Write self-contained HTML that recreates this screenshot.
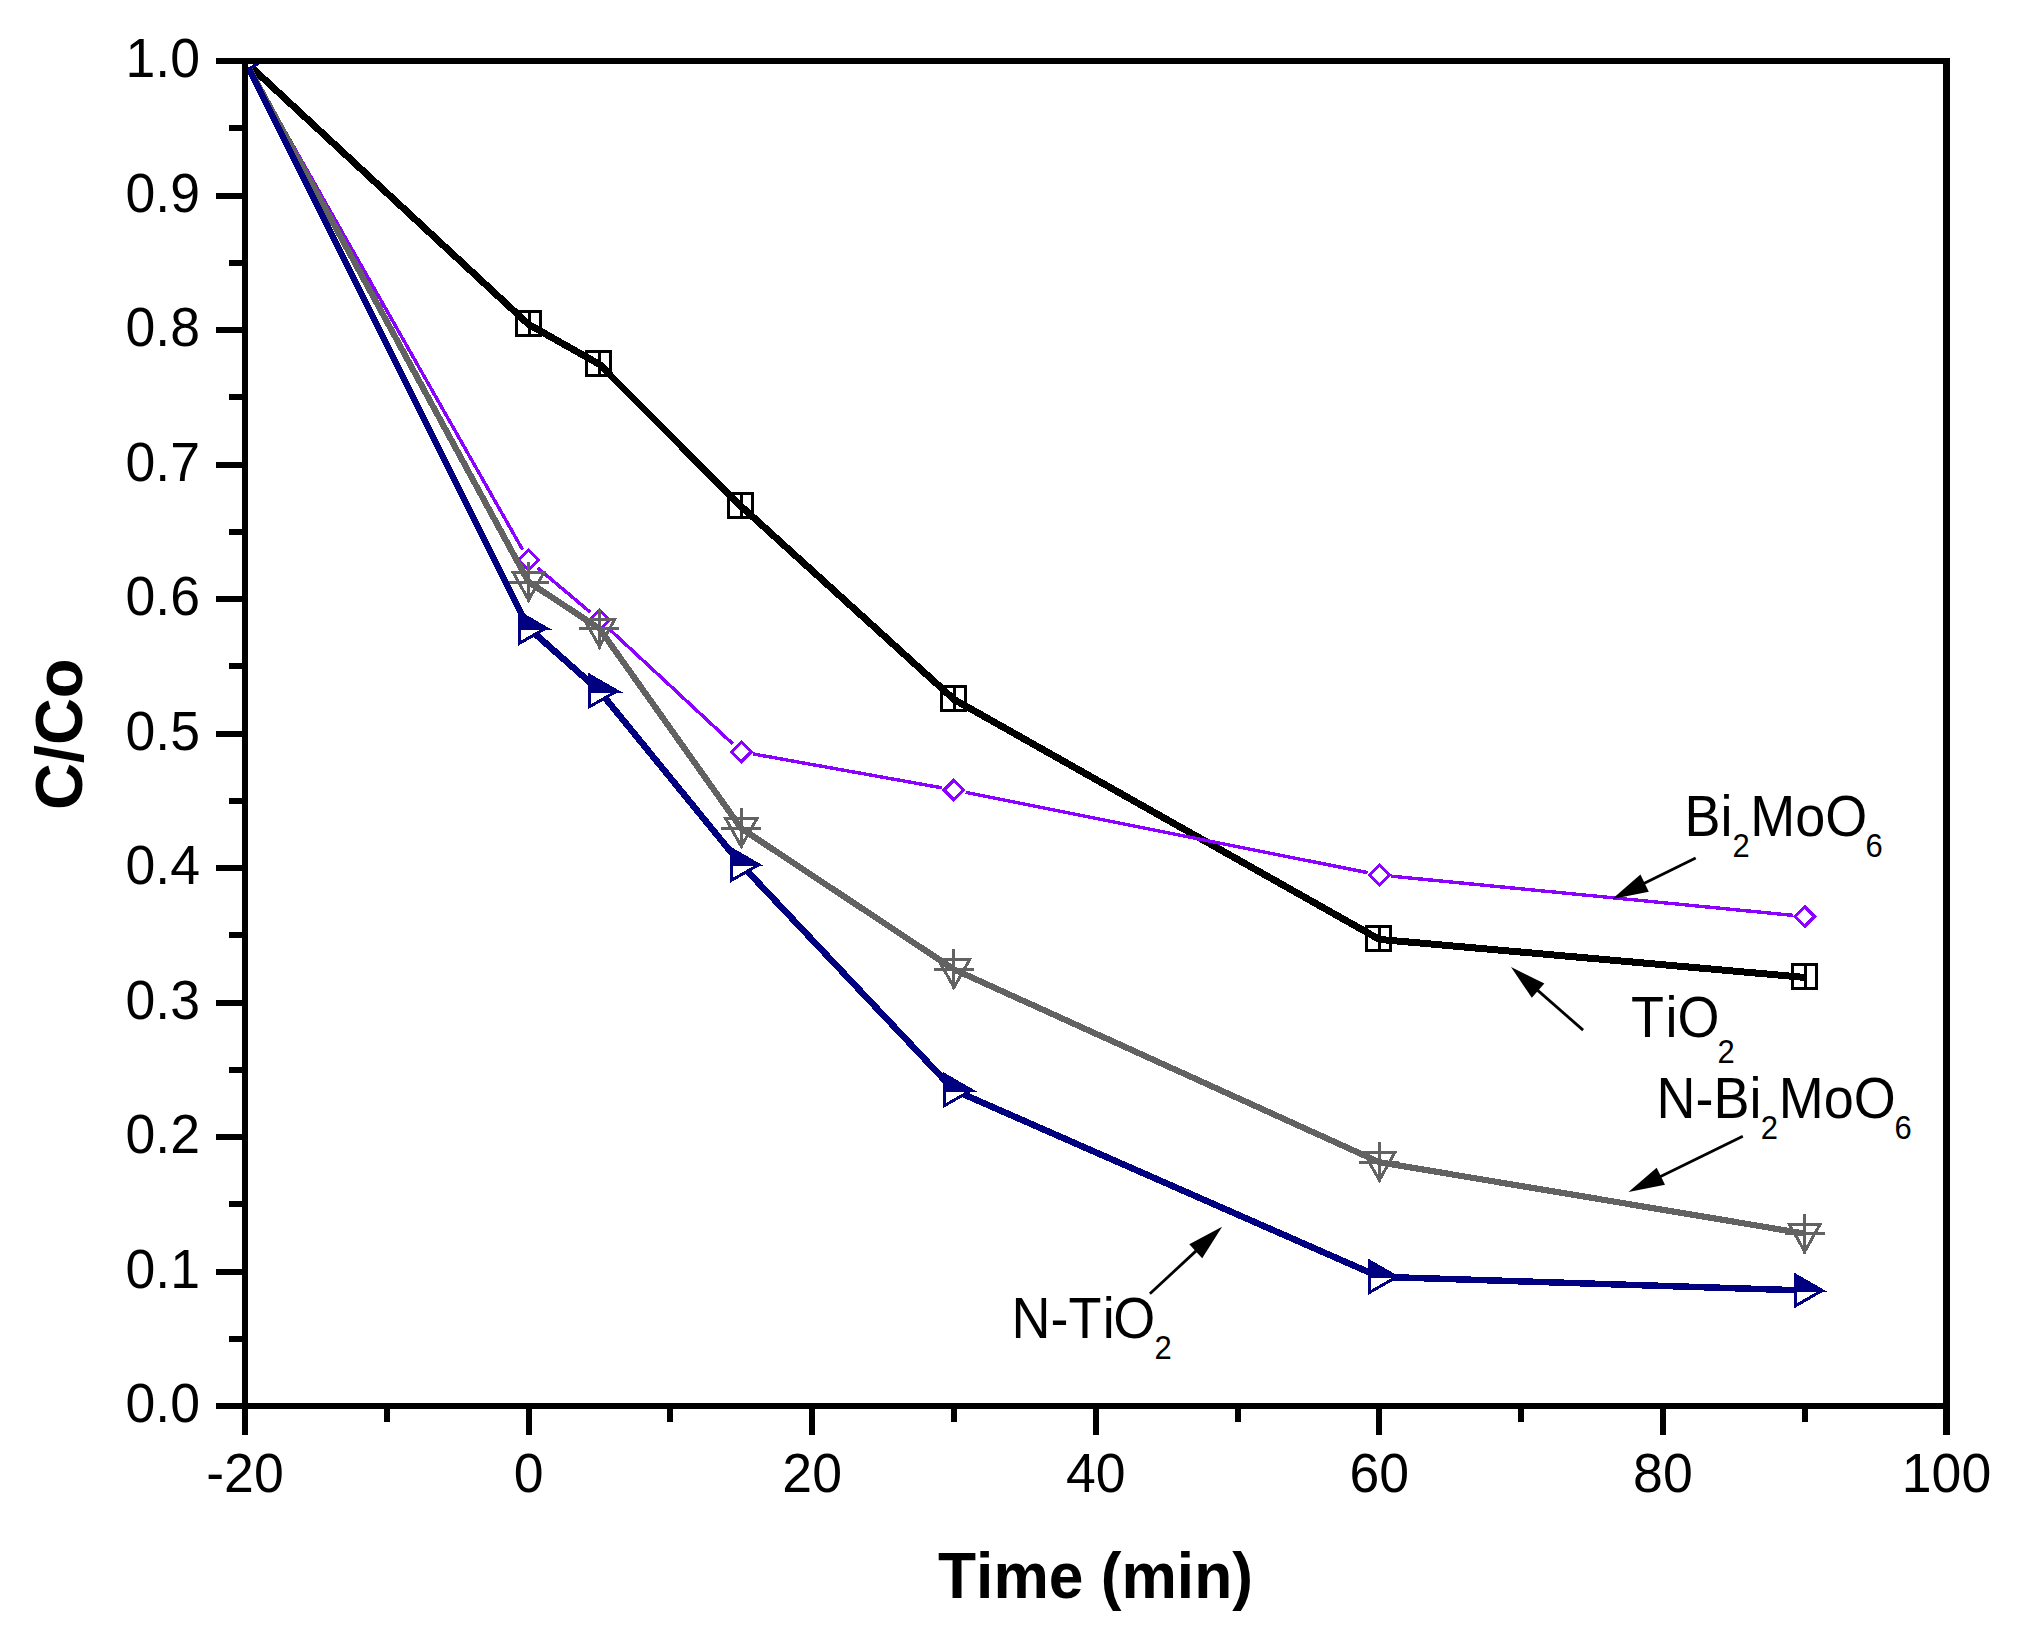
<!DOCTYPE html>
<html lang="en"><head><meta charset="utf-8"><title>C/Co vs Time</title>
<style>
html,body{margin:0;padding:0;background:#fff;}
body{width:2022px;height:1640px;overflow:hidden;}
svg{display:block;}
text{font-family:"Liberation Sans",sans-serif;fill:#000;font-kerning:none;}
.tk{font-size:53.6px;}
.ax{font-size:62.3px;font-weight:bold;}
.ay{font-size:65px;font-weight:bold;}
.lb{font-size:54px;}
.sb{font-size:31px;}
</style></head><body>
<svg width="2022" height="1640" viewBox="0 0 2022 1640">
<rect x="0" y="0" width="2022" height="1640" fill="#ffffff"/>
<defs><clipPath id="plot"><rect x="245" y="61" width="1701.5" height="1345"/></clipPath></defs>
<g clip-path="url(#plot)" fill="none" stroke-linejoin="round" stroke-linecap="butt" shape-rendering="crispEdges">
<polyline points="245,61.4 528.58,324.4 599.48,364.4 741.27,506.4 953.96,699.4 1379.33,939.4 1804.71,977.4" stroke="#000000" stroke-width="7.0"/>
<rect x="516.5" y="311.5" width="24" height="24" stroke="#000000" stroke-width="3.0" stroke-linejoin="miter"/>
<line x1="529" y1="311.5" x2="529" y2="335.5" stroke="#000000" stroke-width="3.0"/>
<rect x="586.5" y="351.5" width="24" height="24" stroke="#000000" stroke-width="3.0" stroke-linejoin="miter"/>
<line x1="599" y1="351.5" x2="599" y2="375.5" stroke="#000000" stroke-width="3.0"/>
<rect x="728.5" y="493.5" width="24" height="24" stroke="#000000" stroke-width="3.0" stroke-linejoin="miter"/>
<line x1="741" y1="493.5" x2="741" y2="517.5" stroke="#000000" stroke-width="3.0"/>
<rect x="941.5" y="686.5" width="24" height="24" stroke="#000000" stroke-width="3.0" stroke-linejoin="miter"/>
<line x1="954" y1="686.5" x2="954" y2="710.5" stroke="#000000" stroke-width="3.0"/>
<rect x="1366.5" y="926.5" width="24" height="24" stroke="#000000" stroke-width="3.0" stroke-linejoin="miter"/>
<line x1="1379" y1="926.5" x2="1379" y2="950.5" stroke="#000000" stroke-width="3.0"/>
<rect x="1792.5" y="964.5" width="24" height="24" stroke="#000000" stroke-width="3.0" stroke-linejoin="miter"/>
<line x1="1805" y1="964.5" x2="1805" y2="988.5" stroke="#000000" stroke-width="3.0"/>
<line x1="245" y1="61" x2="522.66" y2="549.77" stroke="#8c00ff" stroke-width="3.4"/>
<line x1="537.76" y1="567.94" x2="590.31" y2="612.26" stroke="#8c00ff" stroke-width="3.4"/>
<line x1="608.27" y1="628.17" x2="732.48" y2="743.63" stroke="#8c00ff" stroke-width="3.4"/>
<line x1="753.08" y1="753.92" x2="942.15" y2="787.88" stroke="#8c00ff" stroke-width="3.4"/>
<line x1="965.73" y1="792.35" x2="1367.57" y2="872.65" stroke="#8c00ff" stroke-width="3.4"/>
<line x1="1391.28" y1="876.17" x2="1792.77" y2="915.33" stroke="#8c00ff" stroke-width="3.4"/>
<polygon points="528.58,550.3 538.48,560.2 528.58,570.1 518.68,560.2" stroke="#8c00ff" stroke-width="3.0" stroke-linejoin="miter"/>
<polygon points="599.48,610.1 609.38,620 599.48,629.9 589.58,620" stroke="#8c00ff" stroke-width="3.0" stroke-linejoin="miter"/>
<polygon points="741.27,741.9 751.17,751.8 741.27,761.7 731.37,751.8" stroke="#8c00ff" stroke-width="3.0" stroke-linejoin="miter"/>
<polygon points="953.96,780.1 963.86,790 953.96,799.9 944.06,790" stroke="#8c00ff" stroke-width="3.0" stroke-linejoin="miter"/>
<polygon points="1379.33,865.1 1389.23,875 1379.33,884.9 1369.43,875" stroke="#8c00ff" stroke-width="3.0" stroke-linejoin="miter"/>
<polygon points="1804.71,906.6 1814.61,916.5 1804.71,926.4 1794.81,916.5" stroke="#8c00ff" stroke-width="3.0" stroke-linejoin="miter"/>
<polyline points="245,61 528.58,582 599.48,628.6 741.27,828.4 953.96,969.4 1379.33,1162.2 1804.71,1233.6" stroke="#626262" stroke-width="6.2"/>
<polygon points="513.08,572.4 544.08,572.4 528.58,600" stroke="#626262" stroke-width="3.0" stroke-linejoin="miter"/>
<path d="M508.58 582H548.58M528.58 562V602" stroke="#626262" stroke-width="3.0"/>
<polygon points="583.98,619 614.98,619 599.48,646.6" stroke="#626262" stroke-width="3.0" stroke-linejoin="miter"/>
<path d="M579.48 628.6H619.48M599.48 608.6V648.6" stroke="#626262" stroke-width="3.0"/>
<polygon points="725.77,818.8 756.77,818.8 741.27,846.4" stroke="#626262" stroke-width="3.0" stroke-linejoin="miter"/>
<path d="M721.27 828.4H761.27M741.27 808.4V848.4" stroke="#626262" stroke-width="3.0"/>
<polygon points="938.46,959.8 969.46,959.8 953.96,987.4" stroke="#626262" stroke-width="3.0" stroke-linejoin="miter"/>
<path d="M933.96 969.4H973.96M953.96 949.4V989.4" stroke="#626262" stroke-width="3.0"/>
<polygon points="1363.83,1152.6 1394.83,1152.6 1379.33,1180.2" stroke="#626262" stroke-width="3.0" stroke-linejoin="miter"/>
<path d="M1359.33 1162.2H1399.33M1379.33 1142.2V1182.2" stroke="#626262" stroke-width="3.0"/>
<polygon points="1789.21,1224 1820.21,1224 1804.71,1251.6" stroke="#626262" stroke-width="3.0" stroke-linejoin="miter"/>
<path d="M1784.71 1233.6H1824.71M1804.71 1213.6V1253.6" stroke="#626262" stroke-width="3.0"/>
<polyline points="245,61 528.58,628 599.48,691 741.27,864.7 953.96,1090.1 1379.33,1276.8 1804.71,1290.5" stroke="#000080" stroke-width="6.5"/>
<polygon points="235.5,45.5 262.5,61 235.5,76.5" fill="#ffffff" stroke="#000080" stroke-width="3.0" stroke-linejoin="miter"/>
<polygon points="235.5,45.5 262.5,61 235.5,61" fill="#000080" stroke="#000080" stroke-width="3.0" stroke-linejoin="miter"/>
<polygon points="519.08,612.5 546.08,628 519.08,643.5" fill="#ffffff" stroke="#000080" stroke-width="3.0" stroke-linejoin="miter"/>
<polygon points="519.08,612.5 546.08,628 519.08,628" fill="#000080" stroke="#000080" stroke-width="3.0" stroke-linejoin="miter"/>
<polygon points="589.98,675.5 616.98,691 589.98,706.5" fill="#ffffff" stroke="#000080" stroke-width="3.0" stroke-linejoin="miter"/>
<polygon points="589.98,675.5 616.98,691 589.98,691" fill="#000080" stroke="#000080" stroke-width="3.0" stroke-linejoin="miter"/>
<polygon points="731.77,849.2 758.77,864.7 731.77,880.2" fill="#ffffff" stroke="#000080" stroke-width="3.0" stroke-linejoin="miter"/>
<polygon points="731.77,849.2 758.77,864.7 731.77,864.7" fill="#000080" stroke="#000080" stroke-width="3.0" stroke-linejoin="miter"/>
<polygon points="944.46,1074.6 971.46,1090.1 944.46,1105.6" fill="#ffffff" stroke="#000080" stroke-width="3.0" stroke-linejoin="miter"/>
<polygon points="944.46,1074.6 971.46,1090.1 944.46,1090.1" fill="#000080" stroke="#000080" stroke-width="3.0" stroke-linejoin="miter"/>
<polygon points="1369.83,1261.3 1396.83,1276.8 1369.83,1292.3" fill="#ffffff" stroke="#000080" stroke-width="3.0" stroke-linejoin="miter"/>
<polygon points="1369.83,1261.3 1396.83,1276.8 1369.83,1276.8" fill="#000080" stroke="#000080" stroke-width="3.0" stroke-linejoin="miter"/>
<polygon points="1795.21,1275 1822.21,1290.5 1795.21,1306" fill="#ffffff" stroke="#000080" stroke-width="3.0" stroke-linejoin="miter"/>
<polygon points="1795.21,1275 1822.21,1290.5 1795.21,1290.5" fill="#000080" stroke="#000080" stroke-width="3.0" stroke-linejoin="miter"/>
</g>
<g stroke="#000" fill="none" stroke-linecap="butt" shape-rendering="crispEdges">
<rect x="242" y="58" width="1701" height="1348" stroke="none"/>
<path d="M216 61H1950" stroke-width="6"/>
<path d="M242 1406H1950" stroke-width="6"/>
<path d="M245 58V1435" stroke-width="6"/>
<path d="M1946.5 58V1435" stroke-width="7"/>
<path d="M229 1338.75H245M216 1271.5H245M229 1204.25H245M216 1137H245M229 1069.75H245M216 1002.5H245M229 935.25H245M216 868H245M229 800.75H245M216 733.5H245M229 666.25H245M216 599H245M229 531.75H245M216 464.5H245M229 397.25H245M216 330H245M229 262.75H245M216 195.5H245M229 128.25H245M216 1406H245" stroke-width="6"/>
<path d="M386.79 1406V1422M528.58 1406V1435M670.38 1406V1422M812.17 1406V1435M953.96 1406V1422M1095.75 1406V1435M1237.54 1406V1422M1379.33 1406V1435M1521.12 1406V1422M1662.92 1406V1435M1804.71 1406V1422" stroke-width="6"/>
</g>
<g class="tk" text-anchor="end">
<text transform="translate(200 1422.3) scale(1 1.025)">0.0</text>
<text transform="translate(200 1287.8) scale(1 1.025)">0.1</text>
<text transform="translate(200 1153.3) scale(1 1.025)">0.2</text>
<text transform="translate(200 1018.8) scale(1 1.025)">0.3</text>
<text transform="translate(200 884.3) scale(1 1.025)">0.4</text>
<text transform="translate(200 749.8) scale(1 1.025)">0.5</text>
<text transform="translate(200 615.3) scale(1 1.025)">0.6</text>
<text transform="translate(200 480.8) scale(1 1.025)">0.7</text>
<text transform="translate(200 346.3) scale(1 1.025)">0.8</text>
<text transform="translate(200 211.8) scale(1 1.025)">0.9</text>
<text transform="translate(200 77.3) scale(1 1.025)">1.0</text>
</g>
<g class="tk" text-anchor="middle">
<text transform="translate(245 1492) scale(1 1.035)">-20</text>
<text transform="translate(528.58 1492) scale(1 1.035)">0</text>
<text transform="translate(812.17 1492) scale(1 1.035)">20</text>
<text transform="translate(1095.75 1492) scale(1 1.035)">40</text>
<text transform="translate(1379.33 1492) scale(1 1.035)">60</text>
<text transform="translate(1662.92 1492) scale(1 1.035)">80</text>
<text transform="translate(1946.5 1492) scale(1 1.035)">100</text>
</g>
<text class="ax" text-anchor="middle" transform="translate(1095.5 1598) scale(1 1.05)">Time (min)</text>
<text class="ay" text-anchor="middle" transform="translate(81.5 734.3) rotate(-90) scale(1 1.035)">C/Co</text>
<text class="lb" transform="translate(1684.5 836) scale(1 1.047)">Bi<tspan class="sb" dy="19.9">2</tspan><tspan dy="-19.9" dx="0.6">MoO</tspan><tspan class="sb" dy="19.9" dx="-1.8">6</tspan></text>
<text class="lb" transform="translate(1631 1036.7) scale(1 1.047)">T<tspan dx="1.5">iO</tspan><tspan class="sb" dy="24.8" dx="-1.9">2</tspan></text>
<text class="lb" transform="translate(1656.5 1118) scale(1 1.047)">N-Bi<tspan class="sb" dy="19.9" dx="-0.8">2</tspan><tspan dy="-19.9" dx="0.9">MoO</tspan><tspan class="sb" dy="19.9" dx="-1.3">6</tspan></text>
<text class="lb" transform="translate(1011.5 1338) scale(1 1.047)">N-T<tspan dx="1.2">i</tspan><tspan dx="-1.5">O</tspan><tspan class="sb" dy="19.9" dx="-0.7">2</tspan></text>
<line x1="1695.7" y1="858" x2="1642.81" y2="884" stroke="#000" stroke-width="2.8"/><polygon points="1612.3,899 1640.42,874.59 1648.8,891.64" fill="#000"/>
<line x1="1583.1" y1="1030.1" x2="1536.59" y2="989.39" stroke="#000" stroke-width="2.8"/><polygon points="1511,967 1544.35,983.56 1531.83,997.86" fill="#000"/>
<line x1="1742.8" y1="1136.2" x2="1659.04" y2="1177.16" stroke="#000" stroke-width="2.8"/><polygon points="1628.5,1192.1 1656.67,1167.75 1665.01,1184.82" fill="#000"/>
<line x1="1149.9" y1="1293.8" x2="1197.19" y2="1249.85" stroke="#000" stroke-width="2.8"/><polygon points="1222.1,1226.7 1202.2,1258.17 1189.26,1244.25" fill="#000"/>
</svg></body></html>
